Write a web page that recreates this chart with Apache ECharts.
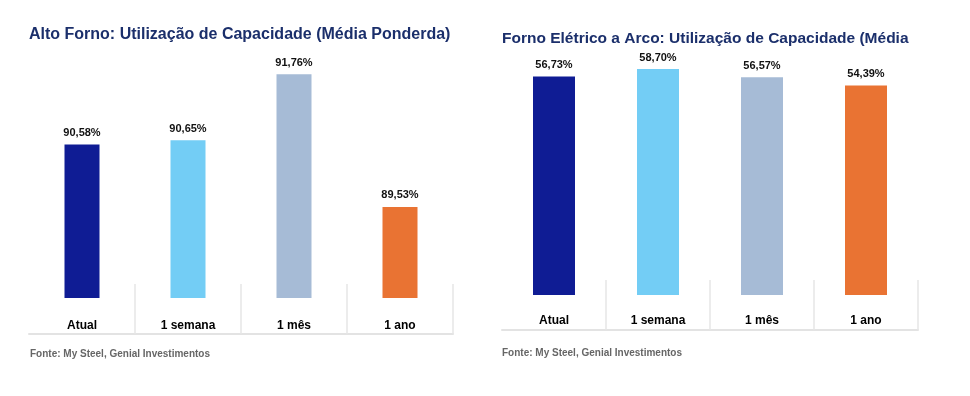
<!DOCTYPE html>
<html>
<head>
<meta charset="utf-8">
<script src="https://cdn.jsdelivr.net/npm/echarts@6/dist/echarts.min.js"></script>
<style>
  html, body { margin: 0; padding: 0; background: #fff; }
  #main { width: 970px; height: 396px; }
</style>
</head>
<body>
<div id="main"></div>
<script>
const categories = ['Atual', '1 semana', '1 mês', '1 ano'];
const altoForno = [90.58, 90.65, 91.76, 89.53];
const fornoEletrico = [56.73, 58.70, 56.57, 54.39];
const barColors = ['#0f1c94', '#73cdf5', '#a6bbd6', '#e97333'];
const titleLeft = 'Alto Forno: Utilização de Capacidade (Média Ponderda)';
const titleRight = 'Forno Elétrico a Arco: Utilização de Capacidade (Média';
const fonte = 'Fonte: My Steel, Genial Investimentos';

const fontFamily = '"Liberation Sans", Arial, sans-serif';

function colored(values) {
  return values.map((v, i) => ({ value: v, itemStyle: { color: barColors[i] } }));
}

function xAxisFor(gridIndex, offset, margin) {
  return {
    type: 'category',
    gridIndex: gridIndex,
    data: categories,
    offset: offset,
    axisLine: { show: true, onZero: false, lineStyle: { color: '#e3e3e3', width: 2 } },
    axisTick: {
      show: true, inside: true, length: 50,
      interval: (i) => i > 0 && i < categories.length, // dividers only between categories
      lineStyle: { color: '#e6e6e6', width: 1.5 }
    },
    axisLabel: {
      inside: true,
      margin: margin,
      color: '#000',
      fontSize: 12,
      fontWeight: 'bold',
      fontFamily: fontFamily
    }
  };
}

const labelStyle = {
  show: true,
  position: 'top',
  distance: 6,
  color: '#111',
  fontSize: 11,
  fontWeight: 'bold',
  fontFamily: fontFamily,
  formatter: p => p.value.toFixed(2).replace('.', ',') + '%'
};

let option = {
  animation: false,
  title: [
    {
      text: titleLeft, left: 24, top: 22,
      textStyle: { color: '#1b2f6b', fontSize: 16, fontWeight: 'bold', fontFamily: fontFamily }
    },
    {
      text: titleRight, left: 497, top: 26,
      textStyle: { color: '#1b2f6b', fontSize: 15.5, fontWeight: 'bold', fontFamily: fontFamily }
    },
    {
      text: fonte, left: 25, top: 344,
      textStyle: { color: '#666', fontSize: 10, fontWeight: 'bold', fontFamily: fontFamily }
    },
    {
      text: fonte, left: 497, top: 343,
      textStyle: { color: '#666', fontSize: 10, fontWeight: 'bold', fontFamily: fontFamily }
    }
  ],
  grid: [
    { left: 29, right: 517, top: 60, bottom: 98 },
    { left: 502, right: 52, top: 64, bottom: 66 }
  ],
  xAxis: [xAxisFor(0, 36, 2), xAxisFor(1, 0, 3)],
  yAxis: [
    { type: 'value', gridIndex: 0, min: 88, max: 92, show: false, splitLine: { show: false } },
    // negative min leaves room under the bars for the category labels
    { type: 'value', gridIndex: 1, min: -9.1, max: 60, show: false, splitLine: { show: false } }
  ],
  series: [
    {
      type: 'bar', xAxisIndex: 0, yAxisIndex: 0,
      barWidth: 35,
      data: colored(altoForno),
      label: labelStyle
    },
    {
      type: 'bar', xAxisIndex: 1, yAxisIndex: 1,
      barWidth: 42,
      data: colored(fornoEletrico),
      label: labelStyle
    }
  ]
};

let myChart = echarts.init(document.getElementById('main'));
myChart.setOption(option);
</script>
</body>
</html>
